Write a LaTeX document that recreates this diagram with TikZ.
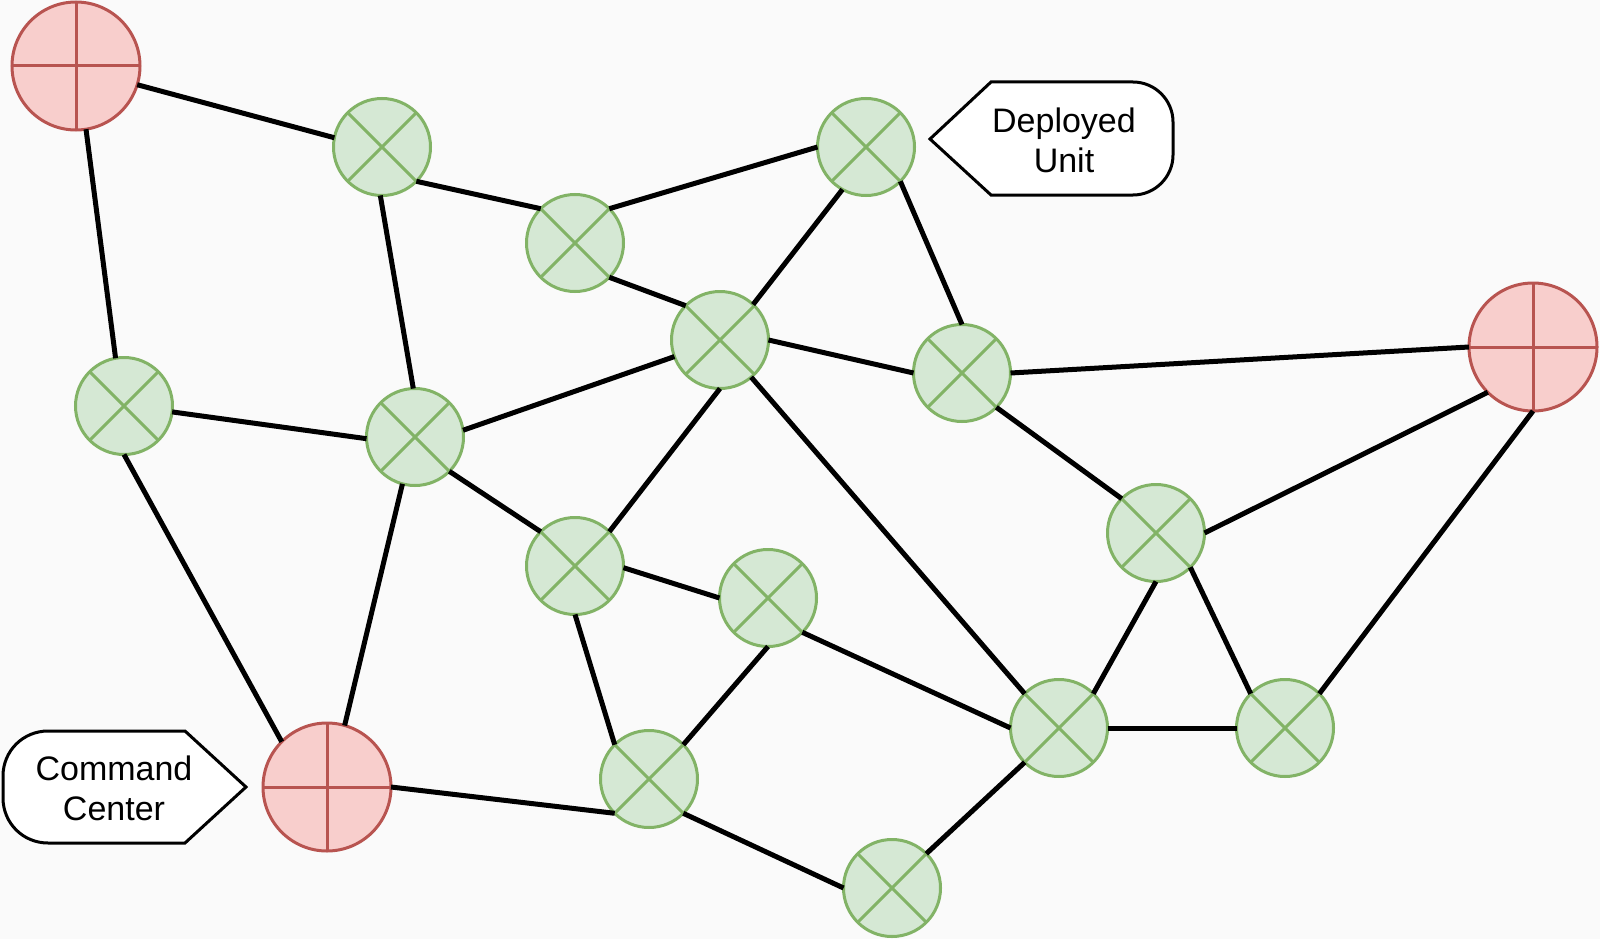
\documentclass[tikz,border=0pt]{standalone}
\usepackage{fontspec}
\setmainfont{Liberation Sans}
\definecolor{bg}{HTML}{FAFAFA}
\definecolor{rfill}{HTML}{F8CECC}
\definecolor{rline}{HTML}{B85450}
\definecolor{gfill}{HTML}{D5E8D4}
\definecolor{gline}{HTML}{82B366}
\tikzset{
  gnode/.style={circle, draw=gline, fill=gfill, line width=3pt, minimum size=97pt, inner sep=0pt, outer sep=0pt},
  rnode/.style={circle, draw=rline, fill=rfill, line width=3pt, minimum size=128pt, inner sep=0pt, outer sep=0pt},
  gcross/.style={draw=gline, line width=3pt},
  rcross/.style={draw=rline, line width=3pt},
  link/.style={draw=black, line width=5pt},
  callout/.style={draw=black, line width=3pt, fill=white, line join=miter},
  lbl/.style={align=center, font=\fontsize{34}{40}\selectfont, inner sep=0pt}
}
\begin{document}
\begin{tikzpicture}[x=1pt,y=-1pt]
\fill[bg] (0,0) rectangle (1600,939);
\useasboundingbox (0,0) rectangle (1600,939);
% nodes
\node[rnode] (r1) at (76,66) {};
\node[gnode] (ga) at (382,147) {};
\node[gnode] (gb) at (866,147) {};
\node[gnode] (gc) at (575,243) {};
\node[gnode] (gd) at (720,340) {};
\node[gnode] (ge) at (962,373) {};
\node[rnode] (r2) at (1533,347) {};
\node[gnode] (gf) at (124,406) {};
\node[gnode] (gg) at (415,437) {};
\node[gnode] (gh) at (1156,533) {};
\node[gnode] (gi) at (575,566) {};
\node[gnode] (gj) at (768,598) {};
\node[rnode] (r3) at (327,787) {};
\node[gnode] (gk) at (649,779) {};
\node[gnode] (gl) at (1059,728) {};
\node[gnode] (gm) at (1285,728) {};
\node[gnode] (gn) at (892,888) {};
% crosses
\foreach \n in {ga,gb,gc,gd,ge,gf,gg,gh,gi,gj,gk,gl,gm,gn}
  \path[gcross] (\n.north west) -- (\n.south east) (\n.north east) -- (\n.south west);
\foreach \n in {r1,r2,r3}
  \path[rcross] (\n.north) -- (\n.south) (\n.west) -- (\n.east);
% links
\path[link] (r1.-17) -- (ga.169);
\path[link] (r1.-81) -- (gf.100);
\path[link] (ga.-45) -- (gc.135);
\path[link] (ga.-92) -- (gg.92);
\path[link] (gc.45) -- (gb.180);
\path[link] (gc.-45) -- (gd.135);
\path[link] (gb.-119) -- (gd.47);
\path[link] (gb.-45) -- (ge.90);
\path[link] (gd.0) -- (ge.180);
\path[link] (gd.-160) -- (gg.8);
\path[link] (gd.-90) -- (gi.45);
\path[link] (gd.-50) -- (gl.135);
\path[link] (ge.0) -- (r2.180);
\path[link] (ge.-45) -- (gh.135);
\path[link] (r2.-135) -- (gh.0);
\path[link] (r2.-90) -- (gm.45);
\path[link] (gf.-7) -- (gg.-178);
\path[link] (gf.-90) -- (r3.135);
\path[link] (gg.-105) -- (r3.74);
\path[link] (gg.-45) -- (gi.135);
\path[link] (gi.-2) -- (gj.180);
\path[link] (gi.-90) -- (gk.135);
\path[link] (gj.-90) -- (gk.45);
\path[link] (gj.-45) -- (gl.180);
\path[link] (r3.0) -- (gk.-135);
\path[link] (gk.-45) -- (gn.180);
\path[link] (gn.45) -- (gl.-135);
\path[link] (gl.45) -- (gh.-90);
\path[link] (gl.0) -- (gm.180);
\path[link] (gh.-45) -- (gm.135);
% callouts
\path[callout] (930,139) -- (991,82) -- (1133,82) .. controls (1155,82) and (1173,100) .. (1173,122) -- (1173,155) .. controls (1173,177) and (1155,195) .. (1133,195) -- (991,195) -- cycle;
\node[lbl] (du) at (1064,140) {Deployed\\Unit};
\path[callout] (246,787) -- (185,843) -- (48,843) .. controls (23,843) and (3,823) .. (3,798) -- (3,776) .. controls (3,751) and (23,731) .. (48,731) -- (185,731) -- cycle;
\node[lbl] (cc) at (114,788.5) {Command\\Center};
\end{tikzpicture}
\end{document}
